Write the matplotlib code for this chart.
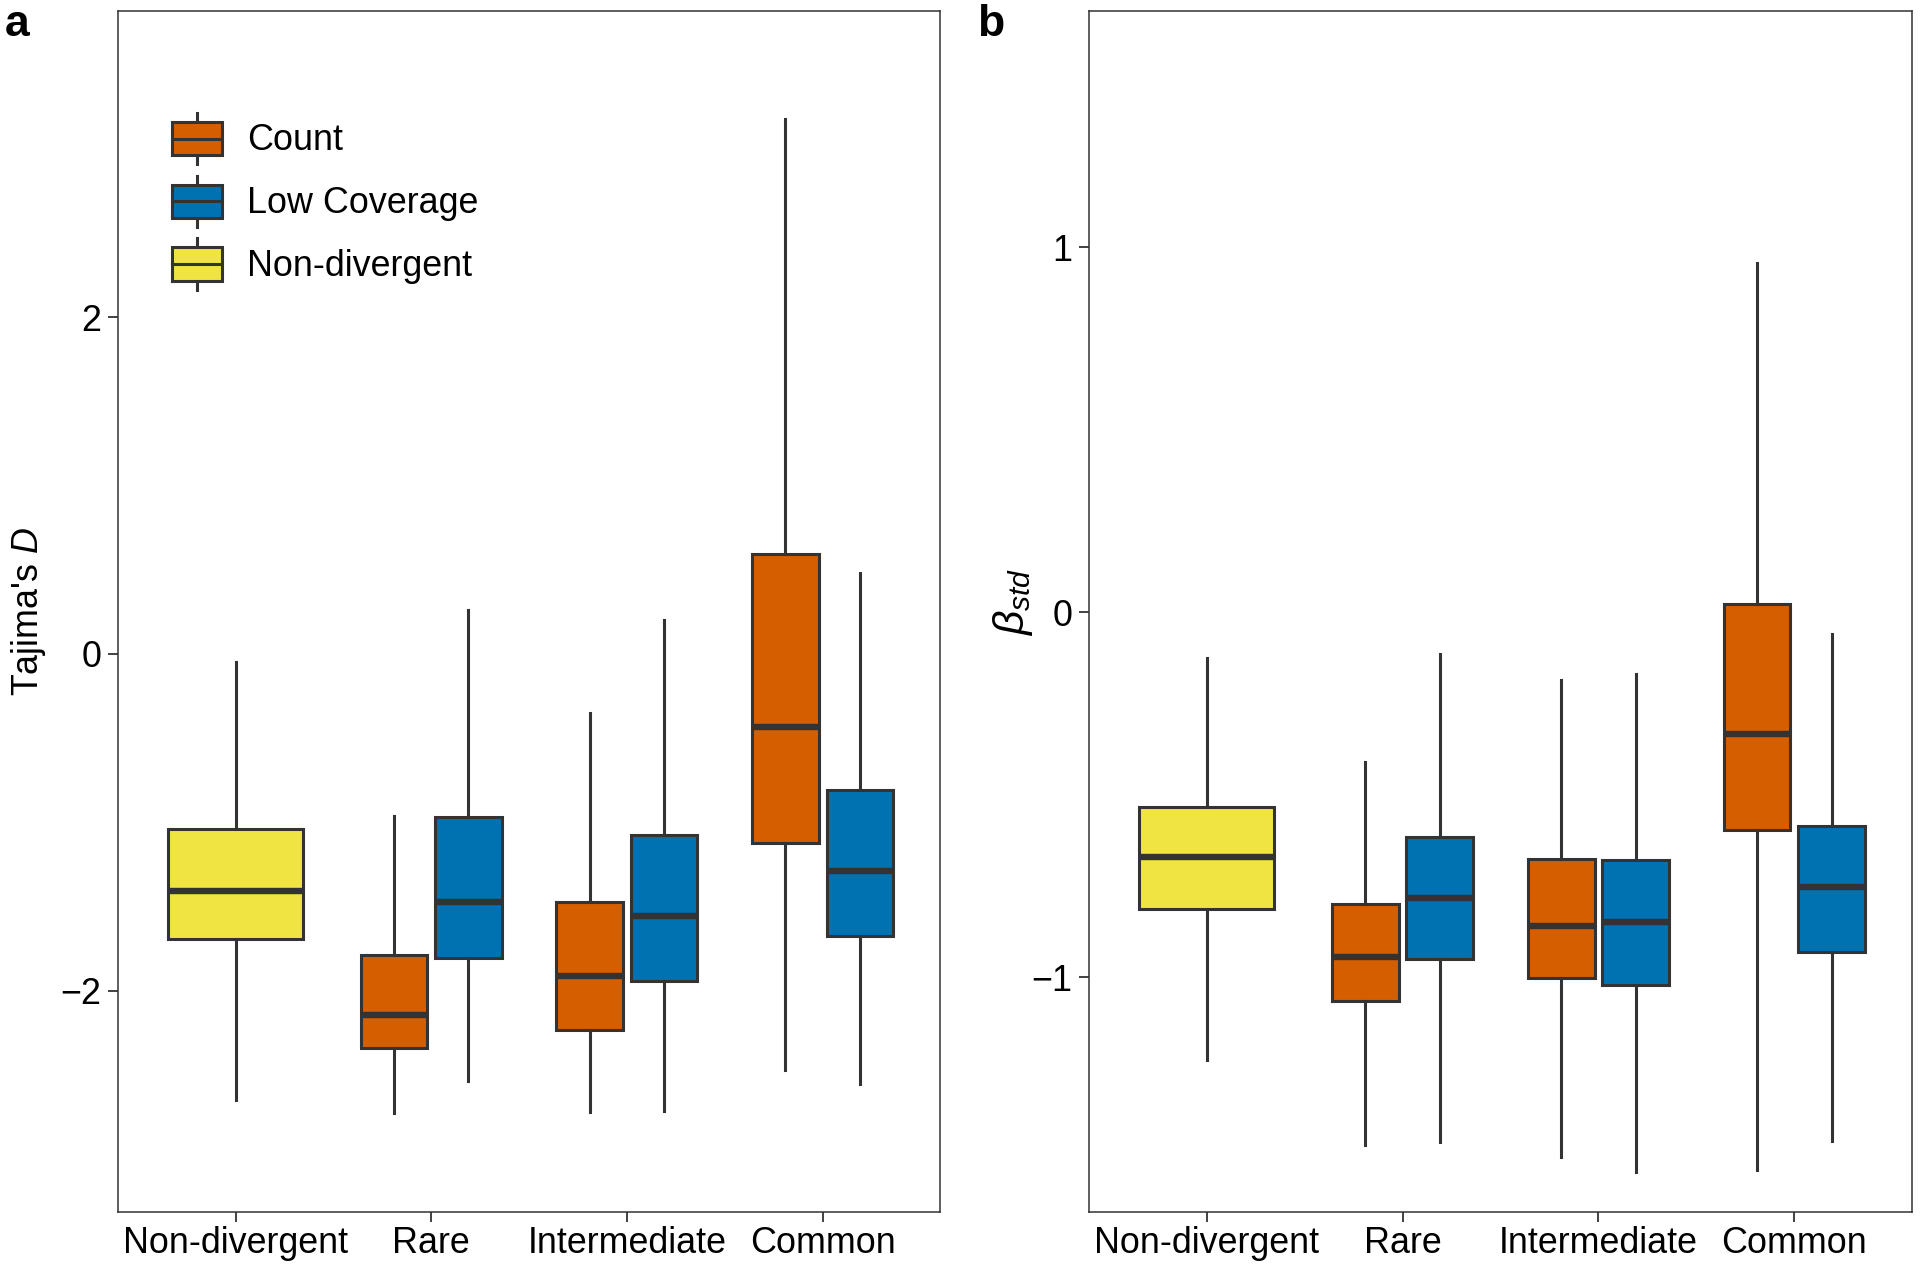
import matplotlib
matplotlib.use("Agg")
import matplotlib.pyplot as plt
from matplotlib.legend_handler import HandlerBase
from matplotlib.patches import Rectangle
from matplotlib.lines import Line2D

plt.rcParams['font.family'] = ['Liberation Sans', 'DejaVu Sans']
plt.rcParams['mathtext.fontset'] = 'custom'
plt.rcParams['mathtext.rm'] = 'Liberation Sans'
plt.rcParams['mathtext.it'] = 'Liberation Sans:italic'

categories = ["Non-divergent", "Rare", "Intermediate", "Common"]
legend_labels = ["Count", "Low Coverage", "Non-divergent"]

# box stats as [whislo, q1, med, q3, whishi]
# panel a: Tajima's D
tajd_nondiv = [-2.65, -1.695, -1.41, -1.04, -0.05]
tajd_count = [[-2.727, -2.342, -2.145, -1.79, -0.96],
              [-2.72, -2.233, -1.913, -1.476, -0.349],
              [-2.473, -1.12, -0.436, 0.596, 3.178]]
tajd_lowcov = [[-2.538, -1.804, -1.476, -0.967, 0.262],
               [-2.713, -1.942, -1.556, -1.076, 0.204],
               [-2.553, -1.673, -1.287, -0.807, 0.48]]

# panel b: beta std
beta_nondiv = [-1.227, -0.813, -0.672, -0.534, -0.124]
beta_count = [[-1.459, -1.066, -0.945, -0.80, -0.41],
              [-1.492, -1.002, -0.861, -0.676, -0.185],
              [-1.529, -0.598, -0.333, 0.024, 0.958]]
beta_lowcov = [[-1.452, -0.951, -0.783, -0.615, -0.114],
               [-1.533, -1.022, -0.850, -0.679, -0.168],
               [-1.449, -0.931, -0.753, -0.585, -0.06]]

col_count = "#D55E00"
col_low = "#0072B2"
col_nondiv = "#F0E442"
edge = "#333333"
box_lw = 2.2
med_lw = 4.6
fs = 25.8


def to_stats(rows):
    out = []
    for r in rows:
        out.append(dict(whislo=r[0], q1=r[1], med=r[2], q3=r[3], whishi=r[4], fliers=[]))
    return out


def draw_boxes(ax, stats, pos, w, color):
    ax.bxp(stats, positions=pos, widths=w, patch_artist=True, showcaps=False,
           showfliers=False, manage_ticks=False,
           boxprops=dict(facecolor=color, edgecolor=edge, linewidth=box_lw),
           medianprops=dict(color=edge, linewidth=med_lw, solid_capstyle='butt'),
           whiskerprops=dict(color=edge, linewidth=box_lw))


def panel(ax, nondiv, count, lowcov, ylim, yticks):
    draw_boxes(ax, to_stats([nondiv]), [1], 0.685, col_nondiv)
    draw_boxes(ax, to_stats(count), [2 - 0.19, 3 - 0.19, 4 - 0.19], 0.34, col_count)
    draw_boxes(ax, to_stats(lowcov), [2 + 0.19, 3 + 0.19, 4 + 0.19], 0.34, col_low)
    ax.set_xlim(0.4, 4.6)
    ax.set_ylim(*ylim)
    ax.set_xticks([1, 2, 3, 4])
    ax.set_xticklabels(categories)
    ax.set_yticks(yticks)
    ax.tick_params(length=7.2, width=1.3, color=edge, labelsize=fs, labelcolor='black')
    ax.tick_params(axis='x', pad=3)
    ax.tick_params(axis='y', pad=5)
    for s in ax.spines.values():
        s.set_color(edge)
        s.set_linewidth(1.1)


class BoxKey(HandlerBase):
    def create_artists(self, legend, orig, xdescent, ydescent, width, height, fontsize, trans):
        x0, y0 = -xdescent, -ydescent
        cy = y0 + height / 2
        bh = height * 0.65
        whisk = Line2D([x0 + width / 2] * 2, [y0, y0 + height], color=edge, lw=box_lw, transform=trans)
        rect = Rectangle((x0, cy - bh / 2), width, bh, facecolor=orig.get_facecolor(),
                         edgecolor=edge, lw=box_lw, transform=trans)
        med = Line2D([x0, x0 + width], [cy, cy], color=edge, lw=box_lw, transform=trans)
        return [whisk, rect, med]


fig = plt.figure(figsize=(19.2, 12.71), dpi=100)
ax1 = fig.add_axes([0.0615, 0.0464, 0.4281, 0.9449])
ax2 = fig.add_axes([0.5672, 0.0464, 0.4286, 0.9449])

panel(ax1, tajd_nondiv, tajd_count, tajd_lowcov, (-3.315, 3.819), [-2, 0, 2])
panel(ax2, beta_nondiv, beta_count, beta_lowcov, (-1.644, 1.648), [-1, 0, 1])

ax1.set_ylabel("Tajima's $D$", fontsize=fs)
ax1.yaxis.set_label_coords(-0.085, 0.5)
ax2.set_ylabel(r"$\beta_{std}$", fontsize=fs + 5)
ax2.yaxis.set_label_coords(-0.066, 0.508)

handles = [Rectangle((0, 0), 1, 1, facecolor=c) for c in [col_count, col_low, col_nondiv]]
ax1.legend(handles, legend_labels, handler_map={Rectangle: BoxKey()}, loc='upper left',
           bbox_to_anchor=(0.0657, 0.915), frameon=False, borderpad=0, borderaxespad=0,
           fontsize=fs, handlelength=1.38, handleheight=1.82, labelspacing=0.32,
           handletextpad=0.72)

fig.text(0.0026, 0.981, "a", fontsize=32, fontweight='bold', va='center', ha='left')
fig.text(0.509, 0.981, "b", fontsize=32, fontweight='bold', va='center', ha='left')

fig.savefig("out.png", dpi=100)
